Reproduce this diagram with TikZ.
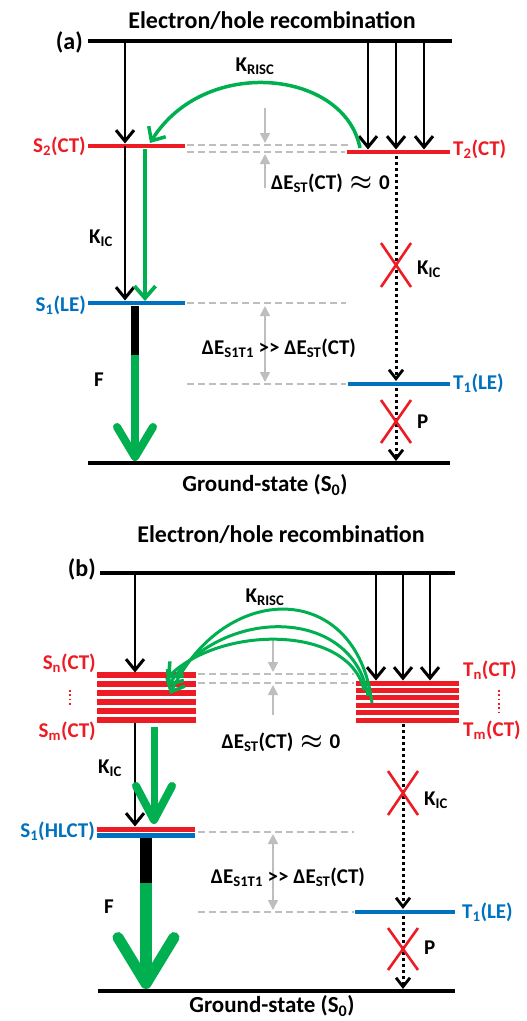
\documentclass[tikz,border=0pt]{standalone}
\usepackage{fontspec}
\setmainfont{Carlito}
\usetikzlibrary{arrows.meta}

\definecolor{ctred}{RGB}{237,28,36}
\definecolor{leblue}{RGB}{0,112,192}
\definecolor{fgreen}{RGB}{0,176,80}
\definecolor{gapgrey}{RGB}{190,190,190}

\newcommand{\approxbold}{\hspace{7pt}{\fontsize{25}{25}\selectfont\boldmath$\approx$}\hspace{7pt}}

\tikzset{
  level/.style={line width=4.5pt},
  pump/.style={line width=2.6pt, shorten >=2.5pt, -{Straight Barb[length=11pt,width=18pt,line width=3pt]}},
  greenpump/.style={fgreen, line width=3.8pt, -{Straight Barb[length=12pt,width=21pt,line width=3.8pt]}},
  risc/.style={fgreen, line width=3.5pt, -{Straight Barb[length=11pt,width=20pt,line width=3.5pt]}},
  gapline/.style={gapgrey, line width=1.7pt, dash pattern=on 7pt off 4pt},
  gaparrow/.style={gapgrey, line width=1.7pt, -{Triangle[length=10pt,width=10pt]}},
  gapboth/.style={gapgrey, line width=1.7pt, {Triangle[length=10pt,width=10pt]}-{Triangle[length=10pt,width=10pt]}},
  dotpath/.style={line width=3pt, dash pattern=on 3pt off 3pt, -{Straight Barb[length=9pt,width=14pt,line width=2.8pt]}},
  blocked/.style={ctred, line width=2.6pt},
  lbl/.style={font=\bfseries\fontsize{21}{22}\selectfont, inner sep=1pt},
  title/.style={font=\bfseries\fontsize{24}{26}\selectfont, inner sep=1pt},
  ctdots/.style={ctred, line width=1.8pt, dash pattern=on 1.8pt off 2.5pt},
}

\begin{document}
\begin{tikzpicture}[x=1pt,y=-1pt]
  \useasboundingbox (0,0) rectangle (527,1021);

  % ===== (a) =====
  \node[title] (reca) at (272,21) {Electron/hole recombination};
  \node[title, anchor=east] (taga) at (84,42) {(a)};
  \draw[level] (88,41) coordinate (topa) -- (452,41);

  % --- livelli ---
  \draw[level, ctred] (88,146) coordinate (s2a) -- (185,146);
  \node[lbl, ctred, anchor=east] (s2alab) at (87,146) {S\textsubscript{2}(CT)};
  \draw[level, ctred] (347,152) coordinate (t2a) -- (450,152);
  \node[lbl, ctred, anchor=west] (t2alab) at (452,149) {T\textsubscript{2}(CT)};
  \draw[level, leblue] (88,303) coordinate (s1a) -- (185,303);
  \node[lbl, leblue, anchor=east] (s1alab) at (87,305) {S\textsubscript{1}(LE)};
  \draw[level, leblue] (348,384) coordinate (t1a) -- (450,384);
  \node[lbl, leblue, anchor=west] (t1alab) at (452,383) {T\textsubscript{1}(LE)};
  \draw[level] (88,463) coordinate (s0a) -- (450,463);
  \node[lbl, font=\bfseries\fontsize{23}{24}\selectfont] (s0alab) at (265,485) {Ground-state (S\textsubscript{0})};

  % --- gap ---
  \draw[gapline] (187,145) -- (350,145);
  \draw[gapline] (187,152) -- (345,152);
  \draw[gapline] (187,303) -- (346,303);
  \draw[gapline] (187,384) -- (346,384);
  \draw[gaparrow] (265,108) -- (265,143);
  \draw[gaparrow] (265,188) -- (265,154);
  \draw[gapboth] (265,306) -- (265,382);
  \node[lbl, anchor=west] (dsta) at (270,183) {ΔE\textsubscript{ST}(CT)\approxbold0};
  \node[lbl] (dsta2) at (279,348) {ΔE\textsubscript{S1T1} >{}> ΔE\textsubscript{ST}(CT)};

  % --- frecce ---
  \draw[pump] (125,0 |- topa) -- (125,0 |- s2a);
  \foreach \x in {368,396,424}
    \draw[pump] (\x,0 |- topa) -- (\x,0 |- t2a);
  \draw[pump] (125,0 |- s2a) -- (125,0 |- s1a);
  \node[lbl] (kica) at (101,238) {K\textsubscript{IC}};
  \draw[greenpump] (145,149) -- (145,301);
  \draw[risc] (360,148) .. controls (345,70) and (205,55) .. (150,143);
  \node[lbl] (risca) at (255,66) {K\textsubscript{RISC}};

  % --- fluorescenza ---
  \draw[line width=8pt] (135,306) -- (135,356);
  \draw[fgreen, line width=8pt, -{Straight Barb[length=30pt,width=36pt,line width=8pt,round]}] (135,355) -- (135,461);
  \node[lbl] (fa) at (99,380) {F};

  % --- tripletti bloccati ---
  \draw[dotpath] (396,156) -- (396,381);
  \draw[dotpath] (396,388) -- (396,461);
  \draw[blocked] (381,243) -- (411,287) (411,243) -- (381,287);
  \node[lbl, anchor=west] (kica2) at (416,269) {K\textsubscript{IC}};
  \draw[blocked] (381,400) -- (411,443) (411,400) -- (381,443);
  \node[lbl, anchor=west] (pa) at (416,422) {P};

  % ===== (b) =====
  \node[title] (recb) at (281,535) {Electron/hole recombination};
  \node[title, anchor=east] (tagb) at (97,569) {(b)};
  \draw[level] (100,573) coordinate (topb) -- (455,573);

  % --- manifold CT ---
  \foreach \i in {0,...,5} {
    \draw[ctred, line width=5.5pt] (97,675+9*\i) -- (196,675+9*\i);
    \draw[ctred, line width=5pt] (356,683+7.4*\i) -- (459,683+7.4*\i);
  }
  \coordinate (snb) at (97,675);
  \coordinate (smb) at (97,721);
  \coordinate (tnb) at (356,683);
  \coordinate (tmb) at (356,720);
  \node[lbl, ctred, anchor=east] (snlab) at (97,663) {S\textsubscript{n}(CT)};
  \node[lbl, ctred, anchor=east] (smlab) at (97,731) {S\textsubscript{m}(CT)};
  \draw[ctdots] (70,690) -- (70,707);
  \node[lbl, ctred, anchor=west] (tnlab) at (462,670) {T\textsubscript{n}(CT)};
  \node[lbl, ctred, anchor=west] (tmlab) at (462,730) {T\textsubscript{m}(CT)};
  \draw[ctdots] (499,690) -- (499,715);

  % --- livelli ---
  \draw[level, ctred, line width=5pt] (97,829) coordinate (s1b) -- (195,829);
  \draw[level, leblue, line width=5pt] (97,835) -- (195,835);
  \node[lbl, leblue, anchor=east] (s1blab) at (96,831) {S\textsubscript{1}(HLCT)};
  \draw[level, leblue] (355,912) coordinate (t1b) -- (455,912);
  \node[lbl, leblue, anchor=west] (t1blab) at (461,912) {T\textsubscript{1}(LE)};
  \draw[level] (98,991) coordinate (s0b) -- (455,991);
  \node[lbl, font=\bfseries\fontsize{23}{24}\selectfont] (s0blab) at (272,1006) {Ground-state (S\textsubscript{0})};

  % --- gap ---
  \draw[gapline] (198,674) -- (354,674);
  \draw[gapline] (198,683) -- (354,683);
  \draw[gapline] (198,832) -- (354,832);
  \draw[gapline] (198,912) -- (354,912);
  \draw[gaparrow] (273,640) -- (273,672);
  \draw[gaparrow] (273,715) -- (273,685);
  \draw[gapboth] (273,834) -- (273,910);
  \node[lbl] (dstb) at (281,742) {ΔE\textsubscript{ST}(CT)\approxbold0};
  \node[lbl] (dstb2) at (288,877) {ΔE\textsubscript{S1T1} >{}> ΔE\textsubscript{ST}(CT)};

  % --- frecce ---
  \draw[pump] (135,0 |- topb) -- (135,0 |- snb);
  \foreach \x in {376,403,430}
    \draw[pump] (\x,0 |- topb) -- (\x,0 |- tnb);
  \draw[pump] (135,723) -- (135,0 |- s1b);
  \node[lbl] (kicb) at (110,768) {K\textsubscript{IC}};
  \draw[fgreen, line width=7pt, -{Straight Barb[length=34pt,width=36pt,line width=8pt,round]}] (154,727) -- (154,824);
  \draw[risc, line width=3pt] (372,703) .. controls (357,580) and (225,580) .. (170,694);
  \draw[risc, line width=3pt] (368,696) .. controls (353,606) and (223,606) .. (168,686);
  \draw[risc, line width=3pt] (364,690) .. controls (349,625) and (222,625) .. (167,678);
  \node[lbl] (riscb) at (265,597) {K\textsubscript{RISC}};

  % --- fluorescenza ---
  \draw[line width=12pt] (146,838) -- (146,884);
  \draw[fgreen, line width=12pt, -{Straight Barb[length=46pt,width=56pt,line width=11pt,round]}] (146,883) -- (146,989);
  \node[lbl] (fb) at (109,907) {F};

  % --- tripletti bloccati ---
  \draw[dotpath] (403,724) -- (403,909);
  \draw[dotpath] (403,916) -- (403,989);
  \draw[blocked] (388,771) -- (418,815) (418,771) -- (388,815);
  \node[lbl, anchor=west] (kicb2) at (423,800) {K\textsubscript{IC}};
  \draw[blocked] (388,928) -- (418,970) (418,928) -- (388,970);
  \node[lbl, anchor=west] (pb) at (423,948) {P};
\end{tikzpicture}
\end{document}
